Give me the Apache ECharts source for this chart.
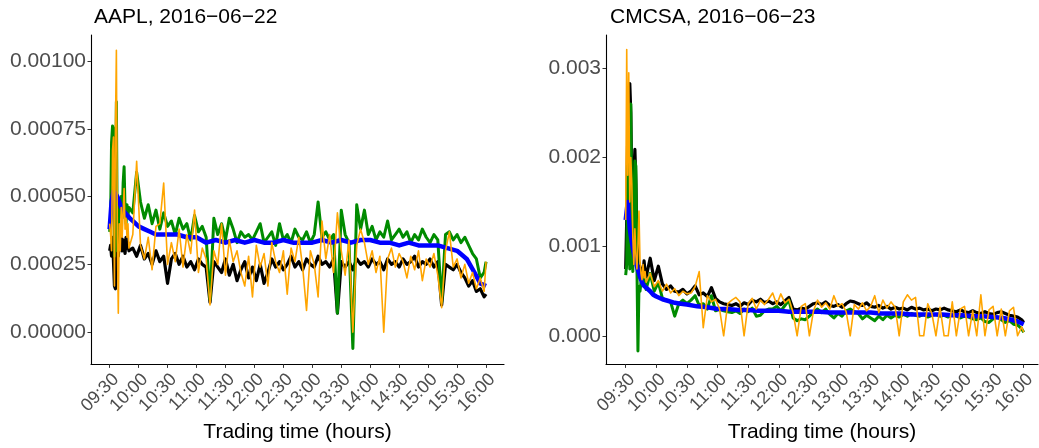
<!DOCTYPE html>
<html>
<head>
<meta charset="utf-8">
<script src="https://cdn.jsdelivr.net/npm/echarts@6/dist/echarts.min.js"></script>
<style>
  html, body { margin: 0; padding: 0; background: #fff; }
  #main { width: 1039px; height: 448px; }
</style>
</head>
<body>
<div id="main"></div>
<script>
// minutes after 09:30 (noisy series)
var minutes = [0, 1, 2, 3, 4, 5, 6, 7, 8, 9,
  10, 11, 12, 13, 14, 15, 16, 17, 18, 19, 20,
  24, 28, 32, 36, 40, 44, 48, 52, 56, 60,
  64, 68, 72, 76, 80, 84, 88, 92, 96, 100,
  104, 108, 112, 116, 120, 124, 128, 132, 136, 140,
  144, 148, 152, 156, 160, 164, 168, 172, 176, 180,
  184, 188, 192, 196, 200, 204, 208, 212, 216, 220,
  224, 228, 232, 236, 240, 244, 248, 252, 256, 260,
  264, 268, 272, 276, 280, 284, 288, 292, 296, 300,
  304, 308, 312, 316, 320, 324, 328, 332, 336, 340,
  344, 348, 352, 356, 360, 364, 368, 372, 376, 380,
  384, 388, 390];
// minutes after 09:30 (smooth blue series)
var smoothMinutes = [0, 2, 4, 6, 8, 10, 12, 14, 16, 18, 21, 24, 27, 30, 36, 42, 48, 54, 60,
  70, 80, 90, 100, 110, 120, 130, 140, 150, 160, 170, 180, 190, 200, 210, 220,
  230, 240, 250, 260, 270, 280, 290, 300, 310, 320, 330, 340, 350, 360, 370,
  378, 384, 390];

var tickMinutes = [0, 30, 60, 90, 120, 150, 180, 210, 240, 270, 300, 330, 360, 390];
var tickLabels = ['09:30', '10:00', '10:30', '11:00', '11:30', '12:00', '12:30',
  '13:00', '13:30', '14:00', '14:30', '15:00', '15:30', '16:00'];
var aaplTicks = [0, 0.00025, 0.0005, 0.00075, 0.001];
var cmcsaTicks = [0, 0.001, 0.002, 0.003];

// AAPL, 2016-06-22
var aaplBlack = [0.00030, 0.00032, 0.00028, 0.00035, 0.00026, 0.00017, 0.00016, 0.00030, 0.00036, 0.00028,
  0.00033, 0.00031, 0.00037, 0.00030, 0.00034, 0.00032, 0.00029, 0.00035, 0.00031, 0.00033, 0.00030,
  0.00031, 0.00028, 0.00032, 0.00027, 0.00029, 0.00025, 0.00030, 0.00026, 0.00028, 0.00018,
  0.00027, 0.00029, 0.00025, 0.00028, 0.00024, 0.00026, 0.00023, 0.00027, 0.00025, 0.00024,
  0.00011, 0.00026, 0.00024, 0.00022, 0.00027, 0.00021, 0.00025, 0.00019, 0.00023, 0.00026,
  0.00020, 0.00024, 0.00019, 0.00025, 0.00018, 0.00022, 0.00027, 0.00024, 0.00026, 0.00023,
  0.00025, 0.00028, 0.00024, 0.00026, 0.00023, 0.00027, 0.00025, 0.00024, 0.00028, 0.00025,
  0.00026, 0.00024, 0.00027, 0.00007, 0.00026, 0.00024, 0.00026, 0.00023, 0.00027, 0.00025,
  0.00026, 0.00024, 0.00027, 0.00025, 0.00026, 0.00023, 0.00027, 0.00025, 0.00026, 0.00024,
  0.00027, 0.00025, 0.00026, 0.00028, 0.00024, 0.00026, 0.00025, 0.00027, 0.00024, 0.00026,
  0.00010, 0.00025, 0.00024, 0.00023, 0.00025, 0.00022, 0.00020, 0.00017, 0.00019, 0.00015,
  0.00016, 0.00013, 0.00014];
var aaplGreen = [0.00037, 0.00042, 0.00070, 0.00076, 0.00075, 0.00028, 0.00040, 0.00085, 0.00030, 0.00036,
  0.00048, 0.00044, 0.00050, 0.00042, 0.00055, 0.00061, 0.00045, 0.00040, 0.00047, 0.00043, 0.00046,
  0.00044, 0.00059, 0.00048, 0.00042, 0.00047, 0.00040, 0.00045, 0.00038, 0.00044, 0.00039,
  0.00041, 0.00036, 0.00042, 0.00038, 0.00040, 0.00034, 0.00043, 0.00037, 0.00039, 0.00035,
  0.00012, 0.00042, 0.00036, 0.00040, 0.00034, 0.00042, 0.00038, 0.00033, 0.00037, 0.00035,
  0.00036, 0.00034, 0.00037, 0.00040, 0.00033, 0.00035, 0.00037, 0.00032, 0.00040, 0.00034,
  0.00036, 0.00033, 0.00038, 0.00035, 0.00034, 0.00037, 0.00033, 0.00036, 0.00048, 0.00035,
  0.00037, 0.00034, 0.00036, 0.00007, 0.00045, 0.00036, 0.00033, -0.00006, 0.00047, 0.00038,
  0.00045, 0.00036, 0.00039, 0.00034, 0.00037, 0.00035, 0.00041, 0.00034, 0.00036, 0.00038,
  0.00035, 0.00037, 0.00033, 0.00036, 0.00034, 0.00038, 0.00035, 0.00033, 0.00036, 0.00034,
  0.00011, 0.00036, 0.00037, 0.00034, 0.00036, 0.00033, 0.00035, 0.00032, 0.00029, 0.00027,
  0.00020, 0.00022, 0.00026];
var aaplOrange = [0.00040, 0.00036, 0.00030, 0.00067, 0.00072, 0.00017, 0.00075, 0.00104, 0.00035, 0.00007,
  0.00040, 0.00030, 0.00046, 0.00035, 0.00044, 0.00053, 0.00038, 0.00042, 0.00035, 0.00040, 0.00031,
  0.00036, 0.00063, 0.00032, 0.00027, 0.00035, 0.00023, 0.00039, 0.00040, 0.00055, 0.00025,
  0.00033, 0.00026, 0.00038, 0.00024, 0.00036, 0.00029, 0.00045, 0.00022, 0.00031, 0.00027,
  0.00010, 0.00030, 0.00025, 0.00040, 0.00021, 0.00034, 0.00026, 0.00030, 0.00022, 0.00017,
  0.00028, 0.00013, 0.00032, 0.00024, 0.00029, 0.00017, 0.00033, 0.00026, 0.00022, 0.00030,
  0.00014, 0.00031, 0.00026, 0.00035, 0.00024, 0.00008, 0.00030, 0.00025, 0.00013, 0.00041,
  0.00027, 0.00036, 0.00022, 0.00044, 0.00030, 0.00021, 0.00034, 0.00000, 0.00032, 0.00038,
  0.00033, 0.00025, 0.00030, 0.00022, 0.00028, 0.00000, 0.00027, 0.00031, 0.00024, 0.00029,
  0.00026, 0.00020, 0.00028, 0.00023, 0.00030, 0.00019, 0.00027, 0.00024, 0.00029, 0.00021,
  0.00009, 0.00030, 0.00037, 0.00024, 0.00027, 0.00020, 0.00025, 0.00018, 0.00022, 0.00016,
  0.00020, 0.00015, 0.00026];
var aaplBlue = [0.00038, 0.00048, 0.00052, 0.00052, 0.00050, 0.00048, 0.00046, 0.00045, 0.00044, 0.00044,
  0.00042, 0.00041, 0.00040, 0.00039, 0.00038, 0.00037, 0.00036, 0.00036, 0.00036,
  0.00036, 0.00035, 0.00035, 0.00033, 0.00034, 0.00033, 0.00034, 0.00033, 0.00034, 0.00033,
  0.00033, 0.00034, 0.00033, 0.00033, 0.00033, 0.00034, 0.00033, 0.00034, 0.00033, 0.00034,
  0.00034, 0.00033, 0.00033, 0.00032, 0.00033, 0.00032, 0.00032, 0.00032, 0.00031, 0.00030,
  0.00027, 0.00022, 0.00018, 0.00017];

// CMCSA, 2016-06-23
var cmcsaBlack = [0.00075, 0.00130, 0.00230, 0.00240, 0.00283, 0.00250, 0.00164, 0.00120, 0.00180, 0.00209,
  0.00170, 0.00110, 0.00080, 0.00072, 0.00078, 0.00070, 0.00075, 0.00068, 0.00084, 0.00072, 0.00066,
  0.00087, 0.00062, 0.00078, 0.00058, 0.00052, 0.00056, 0.00050, 0.00049, 0.00052, 0.00047,
  0.00050, 0.00056, 0.00046, 0.00048, 0.00044, 0.00054, 0.00042, 0.00038, 0.00036, 0.00035,
  0.00034, 0.00036, 0.00033, 0.00037, 0.00035, 0.00040, 0.00038, 0.00041, 0.00037, 0.00039,
  0.00036, 0.00038, 0.00035, 0.00039, 0.00043, 0.00030, 0.00029, 0.00031, 0.00030, 0.00033,
  0.00036, 0.00037, 0.00035, 0.00038, 0.00034, 0.00033, 0.00035, 0.00032, 0.00036, 0.00039,
  0.00038, 0.00036, 0.00034, 0.00037, 0.00033, 0.00032, 0.00034, 0.00031, 0.00033, 0.00030,
  0.00032, 0.00030, 0.00031, 0.00029, 0.00032, 0.00030, 0.00031, 0.00029, 0.00030, 0.00028,
  0.00030, 0.00029, 0.00031, 0.00029, 0.00028, 0.00027, 0.00029, 0.00027, 0.00026, 0.00028,
  0.00026, 0.00025, 0.00027, 0.00025, 0.00024, 0.00026, 0.00027, 0.00025, 0.00023, 0.00022,
  0.00021, 0.00018, 0.00015];
var cmcsaGreen = [0.00068, 0.00080, 0.00212, 0.00130, 0.00075, 0.00260, 0.00120, 0.00072, 0.00150, 0.00196,
  0.00190, 0.00080, -0.00017, 0.00055, 0.00050, 0.00060, 0.00062, 0.00058, 0.00070, 0.00060, 0.00052,
  0.00070, 0.00050, 0.00060, 0.00042, 0.00040, 0.00038, 0.00022, 0.00036, 0.00040, 0.00036,
  0.00040, 0.00045, 0.00034, 0.00036, 0.00030, 0.00045, 0.00028, 0.00030, 0.00028, 0.00027,
  0.00026, 0.00028, 0.00025, 0.00030, 0.00027, 0.00031, 0.00022, 0.00023, 0.00028, 0.00030,
  0.00030, 0.00033, 0.00028, 0.00034, 0.00040, 0.00020, 0.00017, 0.00019, 0.00018, 0.00022,
  0.00027, 0.00030, 0.00026, 0.00030, 0.00024, 0.00020, 0.00025, 0.00022, 0.00028, 0.00030,
  0.00027, 0.00025, 0.00019, 0.00023, 0.00020, 0.00017, 0.00022, 0.00018, 0.00023, 0.00020,
  0.00023, 0.00021, 0.00024, 0.00022, 0.00025, 0.00023, 0.00022, 0.00024, 0.00021, 0.00023,
  0.00024, 0.00022, 0.00023, 0.00021, 0.00024, 0.00022, 0.00020, 0.00022, 0.00021, 0.00019,
  0.00018, 0.00020, 0.00016, 0.00015, 0.00019, 0.00021, 0.00018, 0.00015, 0.00017, 0.00013,
  0.00012, 0.00008, 0.00004];
var cmcsaOrange = [0.00130, 0.00321, 0.00180, 0.00295, 0.00150, 0.00200, 0.00170, 0.00110, 0.00080, 0.00120,
  0.00090, 0.00075, 0.00100, 0.00140, 0.00085, 0.00070, 0.00063, 0.00080, 0.00065, 0.00072, 0.00060,
  0.00070, 0.00055, 0.00062, 0.00050, 0.00058, 0.00048, 0.00053, 0.00045, 0.00050, 0.00047,
  0.00048, 0.00055, 0.00072, 0.00009, 0.00045, 0.00038, 0.00041, 0.00030, 0.00000, 0.00036,
  0.00040, 0.00043, 0.00038, 0.00000, 0.00036, 0.00042, 0.00030, 0.00040, 0.00035, 0.00041,
  0.00048, 0.00035, 0.00047, 0.00037, 0.00041, 0.00026, 0.00000, 0.00033, 0.00036, 0.00000,
  0.00028, 0.00040, 0.00032, 0.00037, 0.00030, 0.00045, 0.00033, 0.00036, 0.00027, 0.00000,
  0.00035, 0.00030, 0.00037, 0.00028, 0.00033, 0.00045, 0.00026, 0.00040, 0.00031, 0.00038,
  0.00032, 0.00000, 0.00038, 0.00046, 0.00040, 0.00043, 0.00000, 0.00000, 0.00036, 0.00025,
  0.00000, 0.00032, 0.00000, 0.00000, 0.00038, 0.00000, 0.00030, 0.00033, 0.00000, 0.00028,
  0.00000, 0.00046, 0.00000, 0.00029, 0.00033, 0.00000, 0.00030, 0.00000, 0.00028, 0.00032,
  0.00000, 0.00010, 0.00004];
var cmcsaBlue = [0.00130, 0.00150, 0.00120, 0.00105, 0.00092, 0.00082, 0.00074, 0.00066, 0.00060, 0.00056,
  0.00053, 0.00050, 0.00046, 0.00044, 0.00041, 0.00039, 0.00037, 0.00036, 0.00035,
  0.00033, 0.00032, 0.00030, 0.00030, 0.00029, 0.00029, 0.00028, 0.00028, 0.00028, 0.00027,
  0.00027, 0.00027, 0.00027, 0.00026, 0.00026, 0.00026, 0.00026, 0.00026, 0.00025, 0.00025,
  0.00025, 0.00024, 0.00024, 0.00024, 0.00024, 0.00023, 0.00023, 0.00022, 0.00022, 0.00021,
  0.00020, 0.00018, 0.00016, 0.00013];

var font = '"Liberation Sans", Arial, sans-serif';

function pairs(ts, vs) {
  return ts.map(function (t, i) { return [t, vs[i]]; });
}

function xAxisFor(gridIndex, max) {
  return {
    type: 'value', gridIndex: gridIndex, min: -19.3, max: max,
    name: 'Trading time (hours)', nameLocation: 'middle', nameGap: 52,
    nameTextStyle: { fontSize: 21, color: '#000', fontFamily: font },
    axisLine: { onZero: false, lineStyle: { color: '#000', width: 1.1 } },
    axisTick: { customValues: tickMinutes, length: 3.5, lineStyle: { color: '#333', width: 1 } },
    minorTick: { show: false },
    axisLabel: {
      customValues: tickMinutes, rotate: 45, margin: 6, fontSize: 18, color: '#4d4d4d',
      fontFamily: font, verticalAlign: 'top',
      formatter: function (v) { return tickLabels[tickMinutes.indexOf(v)]; }
    },
    splitLine: { show: false }
  };
}

function yAxisFor(gridIndex, min, max, ticks, digits) {
  return {
    type: 'value', gridIndex: gridIndex, min: min, max: max,
    axisLine: { show: true, onZero: false, lineStyle: { color: '#000', width: 1.1 } },
    axisTick: { show: true, customValues: ticks, length: 3.5, lineStyle: { color: '#333', width: 1 } },
    minorTick: { show: false },
    axisLabel: {
      customValues: ticks, margin: 5, fontSize: 21, color: '#4d4d4d', fontFamily: font,
      formatter: function (v) { return v.toFixed(digits); }
    },
    splitLine: { show: false }
  };
}

function lineSeries(idx, ts, vs, color, width) {
  return {
    type: 'line', xAxisIndex: idx, yAxisIndex: idx, data: pairs(ts, vs),
    showSymbol: false, symbol: 'none', silent: true,
    lineStyle: { color: color, width: width, join: 'round' },
    itemStyle: { color: color }
  };
}

var chart = echarts.init(document.getElementById('main'));
chart.setOption({
  animation: false,
  backgroundColor: '#fff',
  title: [
    { text: 'AAPL, 2016\u221206\u221222', left: 89, top: 2,
      textStyle: { fontSize: 21, fontWeight: 'normal', color: '#000', fontFamily: font } },
    { text: 'CMCSA, 2016\u221206\u221223', left: 605, top: 2,
      textStyle: { fontSize: 21, fontWeight: 'normal', color: '#000', fontFamily: font } }
  ],
  grid: [
    { left: 91, top: 35, width: 413, height: 330 },
    { left: 606, top: 35, width: 432, height: 330 }
  ],
  xAxis: [xAxisFor(0, 408.6), xAxisFor(1, 404)],
  yAxis: [
    yAxisFor(0, -0.000119, 0.001096, aaplTicks, 5),
    yAxisFor(1, -0.000321, 0.003374, cmcsaTicks, 3)
  ],
  series: [
    lineSeries(0, minutes, aaplBlack, '#000000', 3.2),
    lineSeries(0, minutes, aaplGreen, '#008b00', 3),
    lineSeries(0, smoothMinutes, aaplBlue, '#0000ff', 4.5),
    lineSeries(0, minutes, aaplOrange, '#ffa500', 1.6),
    lineSeries(1, minutes, cmcsaBlack, '#000000', 3.2),
    lineSeries(1, minutes, cmcsaGreen, '#008b00', 3),
    lineSeries(1, smoothMinutes, cmcsaBlue, '#0000ff', 4.5),
    lineSeries(1, minutes, cmcsaOrange, '#ffa500', 1.6)
  ]
});
</script>
</body>
</html>
